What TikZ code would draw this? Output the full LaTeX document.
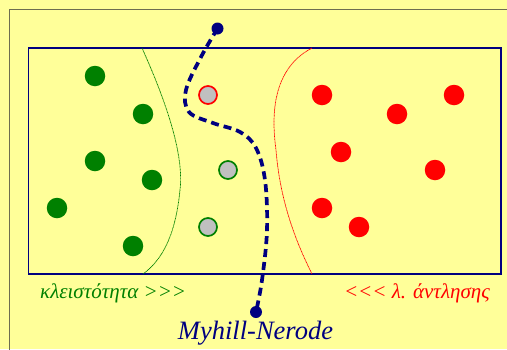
\documentclass[tikz,border=0pt]{standalone}
\usepackage{fontspec}
\setmainfont{Liberation Serif}
\usepackage{tikz}

\definecolor{bgyellow}{RGB}{255,255,153}
\definecolor{mnnavy}{RGB}{0,0,128}
\definecolor{clgreen}{RGB}{0,128,0}
\definecolor{plred}{RGB}{255,0,0}
\definecolor{frameolive}{RGB}{110,110,80}

\tikzset{
  gdot/.style={circle,fill=clgreen,inner sep=0pt,minimum size=20.5pt},
  rdot/.style={circle,fill=plred,inner sep=0pt,minimum size=20.5pt},
  qdot/.style={circle,fill={rgb,255:red,192;green,192;blue,192},line width=1.7pt,inner sep=0pt,minimum size=18pt},
  enddot/.style={circle,fill=mnnavy,inner sep=0pt,minimum size=12pt},
  mnpath/.style={mnnavy,line width=3.7pt,dash pattern={on 8pt off 5pt}},
  border/.style={line width=0.7pt,dash pattern={on 1pt off 0.5pt}},
  label/.style={inner sep=0pt,font=\fontsize{21}{25}\selectfont\itshape},
}

\begin{document}
\begin{tikzpicture}[x=1pt,y=1pt,yscale=-1,xscale=1]
\useasboundingbox (0,0) rectangle (507,349);
\fill [bgyellow] (0,0) rectangle (507,349);

%Shape: outer frame
\draw [frameolive,line width=1.5pt] (9.5,360) -- (9.5,9.7) -- (520,9.7);
%Shape: inner rectangle
\draw [mnnavy,line width=1.5pt] (28.5,48) rectangle (501,274);

%Shape: separating curves
\draw [clgreen,border] (142,48) .. controls (160,88) and (185,150) .. (180,190) .. controls (176,230) and (165,258) .. (143,274);
\draw [plred,border] (312,48) .. controls (270,70) and (272,120) .. (276,150) .. controls (280,200) and (295,240) .. (312,274);

% Green dots
\foreach \n/\x/\y in {1/95/76, 2/143/114, 3/95/161, 4/152/180, 5/57/208, 6/133/246}
  \node [gdot] (g\n) at (\x,\y) {};
% Red dots
\foreach \n/\x/\y in {1/322/95, 2/397/114, 3/454/95, 4/341/152, 5/435/170, 6/322/208, 7/359/227}
  \node [rdot] (r\n) at (\x,\y) {};
% Unknown dots
\node [qdot,draw=plred] (q1) at (208,95) {};
\node [qdot,draw=clgreen] (q2) at (228,170) {};
\node [qdot,draw=clgreen] (q3) at (208,227) {};

% Myhill-Nerode line
\node [enddot] (mntop) at (217.5,28.5) {};
\node [enddot] (mnbot) at (256,312) {};
\draw [mnpath] plot [smooth,tension=0.6] coordinates {(mntop) (201,57) (186,90) (189,112) (213,123) (240,132) (256,148) (265,180) (267,230) (262,280) (mnbot)};

% Text Node
\node [label,anchor=base west,text=clgreen] (lgreen) at (40,298) {κλειστότητα >{}>{}>};
% Text Node
\node [label,anchor=base east,text=plred] (lred) at (490,298) {<{}<{}< λ. άντλησης};
% Text Node
\node [label,anchor=base,font=\fontsize{26.5}{30}\selectfont\itshape,text=mnnavy] (lmn) at (255.5,339) {Myhill-Nerode};

\end{tikzpicture}
\end{document}
